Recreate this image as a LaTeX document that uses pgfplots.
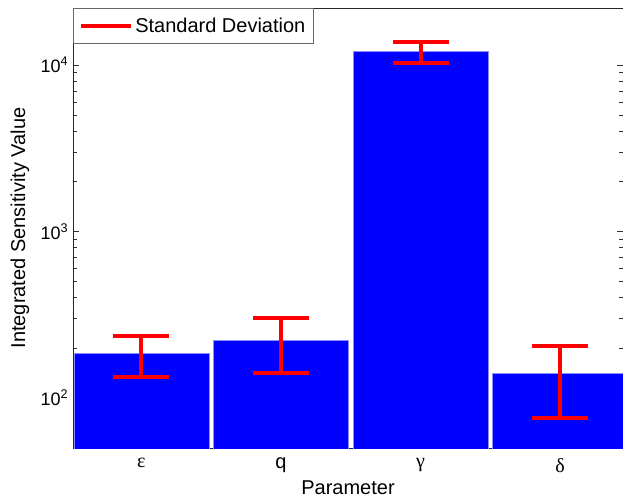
\documentclass[border=0pt]{standalone}
\usepackage{fontspec}
\setmainfont{Liberation Sans}
\newfontfamily\grk{Liberation Serif}
\usepackage{pgfplots}
\pgfplotsset{compat=1.18}
\begin{document}
\begin{tikzpicture}
\begin{axis}[
  scale only axis, width=412.5pt, height=330pt,
  ymode=log, ymin=50, ymax=22000,
  xmin=0.51, xmax=4.45,
  xtick={1,2,3,4},
  xticklabels={{\grk ε},q,{\grk γ},{\grk δ}},
  xtick style={draw=none},
  ytick={100,1000,10000},
  yticklabels={10\textsuperscript{2},10\textsuperscript{3},10\textsuperscript{4}},
  yticklabel style={font=\fontsize{13.5}{15}\selectfont},
  xticklabel style={font=\fontsize{15}{18}\selectfont, yshift=-4pt},
  axis line style={black!85},
  every tick/.style={black!80},
  xlabel={Parameter}, ylabel={Integrated Sensitivity Value},
  every axis x label/.style={at={(axis description cs:0.5,-0.1068)}, anchor=base, font=\fontsize{15}{18}\selectfont},
  every axis y label/.style={at={(axis description cs:-0.0964,0.5)}, rotate=90, anchor=center, font=\fontsize{15}{18}\selectfont},
  legend style={at={(0,1)}, anchor=north west, draw=black!60, fill=white,
    font=\fontsize{15}{18}\selectfont, inner xsep=4pt, inner ysep=5pt, legend cell align=left},
]
\addplot[ybar, bar width=0.967, fill=blue, draw=blue!45, line width=0.5pt, forget plot,
  error bars/.cd, y dir=both, y explicit,
  error bar style={red, line width=3pt},
  error mark options={red, line width=3pt, mark size=21pt, rotate=90}]
  coordinates {
  (1,185) +- (0,52)
  (2,222) +- (0,80)
  (3,12000) +- (0,1700)
  (4,140) +- (0,64)
  };
\addlegendimage{legend image code/.code={\draw[red, line width=3pt] (0pt,0pt) -- (37.5pt,0pt);}}
\addlegendentry{Standard Deviation}
\end{axis}
\pgfresetboundingbox
\useasboundingbox ([xshift=-54.75pt,yshift=-39pt]current axis.south west) rectangle ([yshift=6pt]current axis.north east);
\end{tikzpicture}
\end{document}
